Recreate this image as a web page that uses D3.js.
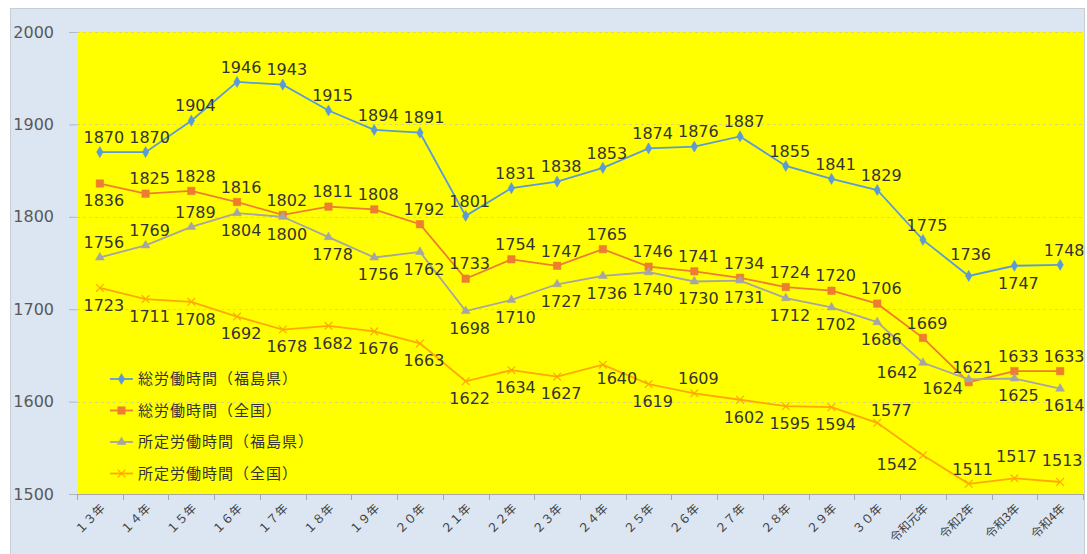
<!DOCTYPE html>
<html>
<head>
<meta charset="utf-8">
<script src="https://cdn.jsdelivr.net/npm/d3@7"></script>
<style>
  body { margin: 0; background: #fff; }
  text { font-family: "DejaVu Sans", sans-serif; }
</style>
</head>
<body>
<div id="chart"></div>
<script>
const categories = [
  "１３年", "１４年", "１５年", "１６年", "１７年", "１８年", "１９年", "２０年",
  "２１年", "２２年", "２３年", "２４年", "２５年", "２６年", "２７年", "２８年",
  "２９年", "３０年", "令和元年", "令和2年", "令和3年", "令和4年",
];
const seriesNames = [
  "総労働時間（福島県）",
  "総労働時間（全国）",
  "所定労働時間（福島県）",
  "所定労働時間（全国）",
];
const totalFukushima = [1870, 1870, 1904, 1946, 1943, 1915, 1894, 1891, 1801, 1831, 1838, 1853, 1874, 1876, 1887, 1855, 1841, 1829, 1775, 1736, 1747, 1748];
const totalNational = [1836, 1825, 1828, 1816, 1802, 1811, 1808, 1792, 1733, 1754, 1747, 1765, 1746, 1741, 1734, 1724, 1720, 1706, 1669, 1621, 1633, 1633];
const fixedFukushima = [1756, 1769, 1789, 1804, 1800, 1778, 1756, 1762, 1698, 1710, 1727, 1736, 1740, 1730, 1731, 1712, 1702, 1686, 1642, 1624, 1625, 1614];
const fixedNational = [1723, 1711, 1708, 1692, 1678, 1682, 1676, 1663, 1622, 1634, 1627, 1640, 1619, 1609, 1602, 1595, 1594, 1577, 1542, 1511, 1517, 1513];
const yTicks = [1500, 1600, 1700, 1800, 1900, 2000];

// label placement per point: t = above, tt = higher, b = below, l = left/below, tr / br = shifted right
const place1 = "t t t t t t t t t t t t t t t t t t t tt b t".split(" ");
const place2 = "b t t t t t t t t t t t t t t t t t t t t t".split(" ");
const place3 = "t t t b b b b b b b b b b b b b b b l l b b".split(" ");
const place4 = "b b b b b b b b b b b br b t b b b tr l t tt tt".split(" ");

const offsets = {
  t: [4, -15], tt: [2, -22], b: [4, 17], l: [-26, 9], tr: [14, -13], br: [14, 14],
};

const width = 1087;
const height = 554;
const plot = { left: 77, right: 1083, top: 32, bottom: 494 };

const series = [
  { name: seriesNames[0], values: totalFukushima, place: place1, color: "#5b9bd5", symbol: d3.symbolDiamond, size: 36, fill: true },
  { name: seriesNames[1], values: totalNational, place: place2, color: "#ed7d31", symbol: d3.symbolSquare, size: 56, fill: true },
  { name: seriesNames[2], values: fixedFukushima, place: place3, color: "#a5a5a5", symbol: d3.symbolTriangle, size: 34, fill: true },
  { name: seriesNames[3], values: fixedNational, place: place4, color: "#ffa800", symbol: d3.symbolX, size: 40, fill: false },
];

const x = d3.scaleBand().domain(categories).range([plot.left, plot.right]);
const cx = (d) => x(d) + x.bandwidth() / 2;
const y = d3.scaleLinear().domain([1500, 2000]).range([plot.bottom, plot.top]);

const svg = d3.select("#chart").append("svg")
  .attr("width", width)
  .attr("height", height)
  .attr("viewBox", [0, 0, width, height]);

// chart area
svg.append("rect")
  .attr("x", 10.5).attr("y", 8.5)
  .attr("width", 1074).attr("height", 560)
  .attr("fill", "#dce6f2")
  .attr("stroke", "#c8cdd3");

// plot area
svg.append("rect")
  .attr("x", plot.left).attr("y", plot.top)
  .attr("width", plot.right - plot.left).attr("height", plot.bottom - plot.top)
  .attr("fill", "#ffff00");

// gridlines
svg.append("g")
  .selectAll("line")
  .data(yTicks.slice(1))
  .join("line")
  .attr("x1", plot.left).attr("x2", plot.right)
  .attr("y1", (d) => Math.round(y(d)) + 0.5).attr("y2", (d) => Math.round(y(d)) + 0.5)
  .attr("stroke", "#d6d68a")
  .attr("stroke-dasharray", "3,3");

// y axis
const yAxis = svg.append("g")
  .attr("transform", `translate(${plot.left},0)`)
  .call(d3.axisLeft(y).tickValues(yTicks).tickSize(8).tickPadding(15).tickFormat(d3.format("d")));
yAxis.select(".domain").remove();
yAxis.selectAll(".tick line").attr("stroke", "#b0b8c0");
yAxis.selectAll(".tick text")
  .attr("fill", "#595959")
  .style("font-size", "16px");

// x axis
const xAxis = svg.append("g")
  .attr("transform", `translate(0,${plot.bottom})`);
xAxis.append("line")
  .attr("x1", plot.left).attr("x2", plot.right)
  .attr("y1", 0.5).attr("y2", 0.5)
  .attr("stroke", "#a6a6a6");
xAxis.selectAll(".tk")
  .data(categories.concat([null]))
  .join("line")
  .attr("class", "tk")
  .attr("x1", (d) => (d ? Math.round(x(d)) : plot.right) + 0.5)
  .attr("x2", (d) => (d ? Math.round(x(d)) : plot.right) + 0.5)
  .attr("y1", 0).attr("y2", 6)
  .attr("stroke", "#a6a6a6");
xAxis.selectAll(".lbl")
  .data(categories)
  .join("text")
  .attr("class", "lbl")
  .attr("transform", (d) => `translate(${cx(d) + 3},${12}) rotate(-45)`)
  .attr("text-anchor", "end")
  .attr("dy", "0.35em")
  .attr("fill", "#404040")
  .style("font-family", "'Noto Sans CJK JP', sans-serif")
  .style("font-size", "12px")
  .text((d) => d);

const line = d3.line()
  .x((d, i) => cx(categories[i]))
  .y((d) => y(d));

const gSeries = svg.append("g")
  .selectAll("g")
  .data(series)
  .join("g");

gSeries.append("path")
  .attr("d", (s) => line(s.values))
  .attr("fill", "none")
  .attr("stroke", (s) => s.color)
  .attr("stroke-width", 1.8);

gSeries.each(function (s) {
  const g = d3.select(this);
  g.selectAll("path.mk")
    .data(s.values)
    .join("path")
    .attr("class", "mk")
    .attr("transform", (d, i) => `translate(${cx(categories[i])},${y(d)})`)
    .attr("d", d3.symbol(s.symbol, s.size))
    .attr("fill", s.fill ? s.color : "none")
    .attr("stroke", s.color)
    .attr("stroke-width", s.fill ? 0.5 : 1.2);
});

// data labels
gSeries.each(function (s) {
  d3.select(this).selectAll("text")
    .data(s.values)
    .join("text")
    .attr("x", (d, i) => cx(categories[i]) + offsets[s.place[i]][0])
    .attr("y", (d, i) => y(d) + offsets[s.place[i]][1])
    .attr("dy", "0.36em")
    .attr("text-anchor", "middle")
    .attr("fill", "#333")
    .style("font-size", "16px")
    .text((d) => d);
});

// legend
const legend = svg.append("g")
  .attr("transform", "translate(110,379)")
  .selectAll("g")
  .data(series)
  .join("g")
  .attr("transform", (d, i) => `translate(0,${i * 31.5})`);
legend.append("line")
  .attr("x1", 0).attr("x2", 23)
  .attr("stroke", (s) => s.color)
  .attr("stroke-width", 1.8);
legend.append("path")
  .attr("transform", "translate(11.5,0)")
  .attr("d", (s) => d3.symbol(s.symbol, s.size)())
  .attr("fill", (s) => (s.fill ? s.color : "none"))
  .attr("stroke", (s) => s.color)
  .attr("stroke-width", (s) => (s.fill ? 0.5 : 1.2));
legend.append("text")
  .attr("x", 28)
  .attr("dy", "0.36em")
  .attr("fill", "#333")
  .style("font-family", "'Noto Sans CJK JP', sans-serif")
  .style("font-size", "15px")
  .style("letter-spacing", "1px")
  .text((s) => s.name);
</script>
</body>
</html>
